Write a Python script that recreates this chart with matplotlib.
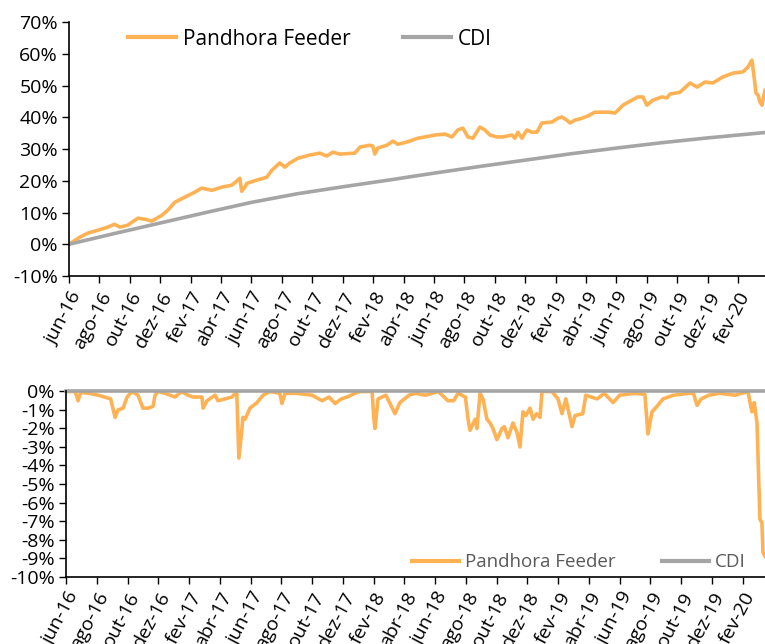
import numpy as np
import matplotlib
matplotlib.use('Agg')
import matplotlib.pyplot as plt
from matplotlib.ticker import PercentFormatter

plt.rcParams['font.family'] = ['Open Sans', 'DejaVu Sans']
plt.rcParams['axes.unicode_minus'] = False

ORANGE = '#FFB254'
GRAY = '#A5A5A5'

# x values are months since 1 jun 2016
tick_labels = ['jun-16', 'ago-16', 'out-16', 'dez-16', 'fev-17', 'abr-17', 'jun-17', 'ago-17',
               'out-17', 'dez-17', 'fev-18', 'abr-18', 'jun-18', 'ago-18', 'out-18', 'dez-18',
               'fev-19', 'abr-19', 'jun-19', 'ago-19', 'out-19', 'dez-19', 'fev-20']

# cumulative return (%)
fund_m = [0.0, 0.7, 1.23, 1.89, 2.55, 3.0, 3.34, 3.86, 4.52, 4.99, 5.44, 6.1, 6.49, 6.95, 7.6,
          8.27, 8.73, 9.39, 10.05, 10.7, 11.1, 11.23, 11.36, 11.56, 11.7, 12.35, 13.0, 13.34,
          13.86, 14.2, 14.52, 15.05, 15.84, 16.49, 16.95, 17.35, 17.81, 18.8, 19.13, 19.78,
          19.98, 20.11, 20.31, 20.9, 21.3, 21.62, 22.22, 22.94, 23.4, 24.06, 24.72, 25.18,
          25.57, 25.9, 26.23, 26.56, 27.02, 27.35, 27.68, 28.14, 28.53, 29.13, 29.32, 29.52,
          29.78, 30.11, 30.44, 30.77, 31.1, 31.76, 32.15, 32.41, 32.74, 32.94, 33.27, 33.73,
          34.12, 34.58, 34.91, 35.57, 35.9, 36.43, 37.02, 37.41, 37.74, 38.0, 38.4, 38.99,
          39.32, 39.52, 40.18, 40.84, 41.3, 41.82, 42.34, 43.0, 43.66, 44.32, 44.65, 44.91,
          44.98, 45.18, 45.31, 45.44, 45.57, 45.77]
fund_ret = [0.0, 2.2, 3.5, 4.4, 5.4, 6.3, 5.4, 6.0, 8.2, 7.9, 7.3, 9.1, 10.7, 13.2, 14.8,
            16.4, 17.7, 17.0, 18.0, 18.6, 20.2, 20.8, 16.7, 18.0, 19.2, 20.2, 21.1, 23.3,
            25.6, 24.3, 25.6, 27.1, 28.1, 28.7, 27.8, 29.0, 28.4, 28.7, 30.6, 31.2,
            30.9, 28.4, 30.3, 31.2, 32.5, 31.5, 32.2, 33.4, 33.8, 34.4, 34.7, 33.8,
            36.0, 36.6, 33.8, 33.4, 36.9, 36.0, 34.4, 33.8, 33.8, 34.4, 33.4, 35.3,
            33.4, 36.0, 35.3, 35.3, 38.2, 38.5, 39.7, 40.1, 39.1, 38.2, 39.1, 39.7,
            40.4, 41.6, 41.6, 41.6, 41.3, 43.8, 45.4, 46.4, 46.4, 43.8, 45.4, 46.4,
            46.1, 47.3, 47.9, 50.8, 49.5, 51.1, 50.8, 52.7, 53.9, 54.3, 55.8, 58.0,
            55.5, 47.6, 47.0, 44.8, 43.8, 48.5]

cdi_m = [0, 3, 6, 9, 12, 15, 18, 21, 24, 27, 30, 33, 36, 39, 42, 45.77]
cdi_ret = [0.0, 3.4, 6.7, 10.0, 13.2, 15.9, 18.1, 20.2, 22.4, 24.5, 26.5, 28.5, 30.3, 32.0, 33.5, 35.2]

# drawdown (%)
dd_m = [0.0, 0.6, 0.78, 0.95, 1.5, 2.1, 2.9, 3.19, 3.38, 3.71, 3.97, 4.29, 4.68, 5.0, 5.33,
        5.66, 5.79, 5.98, 6.44, 7.09, 7.5, 7.93, 8.26, 8.84, 8.91, 9.17, 9.69, 9.88, 10.34,
        10.79, 11.1, 11.24, 11.44, 11.5, 11.64, 11.96, 12.42, 12.81, 13.26, 13.9, 14.04,
        14.24, 15.0, 16.0, 16.65, 17.1, 17.5, 17.9, 18.27, 18.79, 19.12, 19.9, 20.02,
        20.09, 20.29, 20.8, 21.39, 21.71, 22.3, 22.7, 23.4, 24.2, 24.84, 25.2, 25.49,
        25.97, 26.14, 26.27, 26.6, 26.72, 26.92, 27.11, 27.37, 27.57, 27.76, 28.02, 28.35,
        28.5, 28.74, 29.06, 29.32, 29.52, 29.71, 29.9, 30.17, 30.37, 30.6, 30.82, 30.95,
        31.6, 31.99, 32.25, 32.5, 32.9, 33.1, 33.6, 33.8, 34.53, 35.0, 35.57, 36.0, 37.0,
        37.64, 37.84, 38.1, 38.43, 38.82, 39.5, 40.5, 40.8, 41.03, 41.3, 41.8, 42.5, 43.5,
        44.34, 44.6, 44.75, 44.93, 45.0, 45.12, 45.25, 45.32, 45.45]
dd_fund = [0.0, 0.0, -0.5, -0.05, -0.1, -0.2, -0.4, -1.4, -1.0, -0.9, -0.3, 0.0, -0.2, -0.9, -0.9,
           -0.8, -0.2, 0.0, -0.1, -0.3, 0.0, -0.2, -0.3, -0.3, -0.9, -0.5, -0.2, -0.5, -0.4,
           -0.3, 0.0, -3.6, -2.0, -1.4, -1.5, -0.9, -0.6, -0.2, 0.0, -0.1, -0.65,
           -0.1, -0.1, -0.2, -0.5, -0.3, -0.65, -0.4, -0.3, -0.1, 0.0, 0.0, -1.5,
           -2.0, -0.4, -0.2, -1.2, -0.6, -0.2, -0.1, -0.2, 0.0, -0.5, -0.5, -0.1,
           -0.3, -1.5, -2.1, -1.5, -2.0, -0.1, -0.4, -1.5, -1.7, -2.0, -2.6, -2.0,
           -1.9, -2.5, -1.7, -2.2, -3.0, -1.1, -1.3, -0.9, -1.5, -1.2, -1.4, 0.0,
           0.0, -0.4, -1.2, -0.4, -1.9, -1.3, -1.2, -0.2, -0.4, -0.1, -0.6, -0.2, -0.1,
           -0.15, -2.3, -1.1, -0.8, -0.4, -0.2, -0.1, -0.1, -0.75, -0.4, -0.2, -0.1, -0.2,
           0.0, -1.1, -0.6, -1.7, -3.6, -6.9, -7.1, -8.7, -8.9]
dd_cdi = [0.0, 0.0]
dd_cdi_m = [0.0, 45.45]


def style_axis(ax, xmax):
    ax.set_xlim(0, xmax)
    ax.set_xticks(np.arange(0, 45, 2))
    ax.set_xticklabels(tick_labels, rotation=62, ha='right', rotation_mode='anchor', fontsize=14)
    ax.yaxis.set_major_formatter(PercentFormatter(decimals=0))
    ax.tick_params(axis='y', labelsize=14, length=5, width=1, direction='out', pad=3)
    ax.tick_params(axis='x', length=5, width=1, direction='out', pad=4)
    for s in ['top', 'right']:
        ax.spines[s].set_visible(False)
    for s in ['left', 'bottom']:
        ax.spines[s].set_color('black')
        ax.spines[s].set_linewidth(1.2)


fig = plt.figure(figsize=(7.65, 6.44), dpi=100)

# top: cumulative return
ax1 = fig.add_axes([0.0902, 0.5714, 0.9098, 0.3944])
ax1.plot(fund_m, fund_ret, color=ORANGE, lw=2.6, label='Pandhora Feeder', solid_joinstyle='round')
ax1.plot(cdi_m, cdi_ret, color=GRAY, lw=2.6, label='CDI')
ax1.set_ylim(-10, 70)
ax1.set_yticks(np.arange(-10, 71, 10))
style_axis(ax1, 45.77)
leg1 = ax1.legend(loc='center', bbox_to_anchor=(0.346, 0.933), ncol=2, frameon=False,
                  fontsize=15, handlelength=2.3, handletextpad=0.35, columnspacing=2.5)
for h in leg1.get_lines():
    h.set_linewidth(3)

# bottom: drawdown
ax2 = fig.add_axes([0.0863, 0.1048, 0.9137, 0.2873])
ax2.plot(dd_m, dd_fund, color=ORANGE, lw=2.6, label='Pandhora Feeder', solid_joinstyle='round')
ax2.plot(dd_cdi_m, dd_cdi, color=GRAY, lw=2.6, label='CDI', clip_on=False)
ax2.set_ylim(-10, 0)
ax2.set_yticks(np.arange(-10, 0.5, 1))
style_axis(ax2, 45.45)
leg2 = ax2.legend(loc='center', bbox_to_anchor=(0.734, 0.078), ncol=2, frameon=False,
                  fontsize=13.5, handlelength=2.5, handletextpad=0.3, columnspacing=2.5)
for t in leg2.get_texts():
    t.set_color('#595959')
for h in leg2.get_lines():
    h.set_linewidth(3)

fig.savefig('out.png', dpi=100)
